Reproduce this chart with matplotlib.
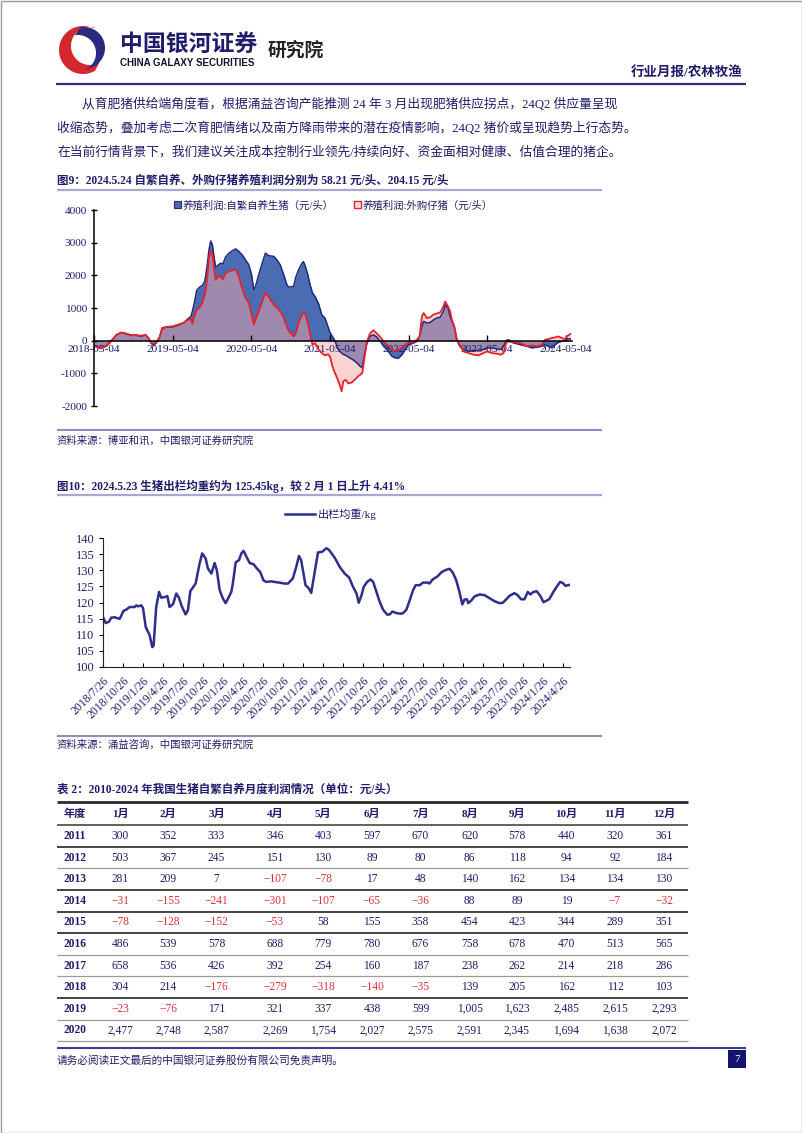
import matplotlib
matplotlib.use("Agg")
import numpy as np
import pandas as pd
import matplotlib.pyplot as plt
import matplotlib.dates as mdates
from matplotlib.patches import Rectangle, Polygon

plt.rcParams['font.family'] = ['Liberation Serif', 'Noto Sans CJK SC']

# ---------------- data ----------------
# 图9 养殖利润 (元/头)
profit_dates = [
    "2018-05-04", "2018-06-07", "2018-06-30", "2018-07-15", "2018-07-31", "2018-08-15",
    "2018-09-07", "2018-09-30", "2018-10-23", "2018-11-16", "2018-12-09", "2018-12-29",
    "2019-01-13", "2019-01-24", "2019-02-04", "2019-02-19", "2019-03-06", "2019-03-16",
    "2019-04-03", "2019-05-04", "2019-06-04", "2019-06-27", "2019-07-12", "2019-07-28",
    "2019-08-04", "2019-08-12", "2019-08-24", "2019-09-04", "2019-09-20", "2019-09-30",
    "2019-10-05", "2019-10-13", "2019-10-20", "2019-10-28", "2019-11-05", "2019-11-12",
    "2019-11-20", "2019-12-03", "2019-12-13", "2019-12-24", "2020-01-05", "2020-01-21",
    "2020-02-05", "2020-02-21", "2020-03-07", "2020-03-22", "2020-04-07", "2020-04-22",
    "2020-05-05", "2020-05-15", "2020-05-23", "2020-06-07", "2020-06-23", "2020-07-08",
    "2020-07-24", "2020-08-16", "2020-08-31", "2020-09-15", "2020-10-01", "2020-10-16",
    "2020-10-24", "2020-11-16", "2020-11-27", "2020-12-09", "2020-12-25", "2021-01-01",
    "2021-01-09", "2021-01-21", "2021-02-01", "2021-02-12", "2021-02-24", "2021-03-12",
    "2021-03-27", "2021-04-11", "2021-04-24", "2021-05-04", "2021-05-15", "2021-05-27",
    "2021-06-09", "2021-06-20", "2021-06-27", "2021-07-05", "2021-07-16", "2021-07-28",
    "2021-08-13", "2021-08-28", "2021-09-12", "2021-09-20", "2021-10-01", "2021-10-10",
    "2021-10-21", "2021-11-05", "2021-11-21", "2021-12-06", "2021-12-21", "2022-01-08",
    "2022-01-23", "2022-02-16", "2022-03-03", "2022-03-19", "2022-04-03", "2022-04-19",
    "2022-05-04", "2022-05-27", "2022-06-12", "2022-06-24", "2022-07-05", "2022-07-13",
    "2022-07-28", "2022-08-13", "2022-08-28", "2022-09-12", "2022-09-28", "2022-10-13",
    "2022-10-21", "2022-11-03", "2022-11-13", "2022-11-21", "2022-12-02", "2022-12-14",
    "2022-12-27", "2023-01-14", "2023-02-06", "2023-03-02", "2023-03-25", "2023-04-17",
    "2023-05-03", "2023-05-26", "2023-06-18", "2023-07-07", "2023-07-19", "2023-07-31",
    "2023-08-11", "2023-09-03", "2023-10-04", "2023-11-04", "2023-11-27", "2023-12-21",
    "2024-01-13", "2024-01-28", "2024-02-13", "2024-02-28", "2024-03-15", "2024-03-30",
    "2024-04-15", "2024-04-30", "2024-05-08", "2024-05-24",
]
self_bred = [
    -150, -220, -170, -70, 50, 170, 250, 210, 170, 170, 130, 180,
    80, -70, -150, -50, 130, 370, 410, 420, 480, 560, 660, 740,
    900, 1130, 1540, 1620, 1700, 1810, 2000, 2370, 2780, 3050, 2930, 2580,
    2250, 2320, 2370, 2350, 2560, 2680, 2750, 2810, 2730, 2630, 2470, 2320,
    2020, 1560, 1660, 2020, 2370, 2680, 2600, 2580, 2470, 2320, 2020, 1710,
    1640, 1660, 1960, 2170, 2370, 2420, 2290, 2020, 1700, 1460, 1350, 1130,
    790, 690, 440, 250, 130, 0, -250, -330, -380, -420, -450, -500,
    -560, -630, -720, -780, -830, -480, -120, 130, 180, 120, 0, -170,
    -270, -480, -530, -530, -430, -270, -120, -70, -20, 130, 440, 590,
    540, 560, 640, 690, 720, 900, 1100, 1000, 740, 590, 440, 30,
    -170, -270, -330, -300, -300, -270, -220, -220, -250, -270, -170, 0,
    30, -70, -120, -170, -220, -200, -170, -120, -170, -220, -120, -50,
    -20, 10, 50, 58.21,
]
purchased = [
    -170, -240, -150, -70, 50, 170, 250, 220, 160, 170, 150, 180,
    50, -70, -100, -40, 130, 390, 420, 440, 500, 560, 640, 660,
    520, 740, 950, 1000, 1170, 1400, 1560, 2000, 2550, 2750, 2650, 2220,
    1860, 1985, 1950, 1880, 2070, 2120, 2150, 2190, 1950, 1600, 1300, 1150,
    800, 490, 650, 900, 1200, 1470, 1330, 1100, 1000, 900, 700, 430,
    300, 130, 250, 550, 780, 870, 800, 550, 180, -120, -80, -270,
    -380, -450, -420, -480, -780, -990, -1190, -1390, -1550, -1240, -1200, -1310,
    -1280, -1190, -1090, -1050, -990, -580, -70, 210, 320, 230, 130, -20,
    -120, -270, -330, -270, -220, -120, -70, -50, 30, 130, 740, 845,
    690, 720, 800, 830, 865, 1050, 1200, 1050, 900, 640, 440, 50,
    -120, -330, -380, -430, -450, -380, -330, -380, -400, -430, -380, -70,
    -20, -50, -70, -170, -150, -170, -130, 30, 50, 80, 100, 130,
    80, 50, 130, 204.15,
]

# 图10 出栏均重 (kg)
weight_dates = [
    "2018-07-26", "2018-08-07", "2018-08-22", "2018-09-02", "2018-09-17", "2018-10-10",
    "2018-10-28", "2018-11-10", "2018-11-25", "2018-12-18", "2018-12-25", "2019-01-02",
    "2019-01-17", "2019-01-25", "2019-02-06", "2019-02-24", "2019-03-08", "2019-03-14",
    "2019-03-26", "2019-04-08", "2019-04-18", "2019-05-04", "2019-05-16", "2019-05-26",
    "2019-06-11", "2019-06-26", "2019-07-08", "2019-07-19", "2019-08-07", "2019-08-18",
    "2019-08-29", "2019-09-07", "2019-09-22", "2019-10-10", "2019-10-22", "2019-11-07",
    "2019-11-17", "2019-12-03", "2019-12-18", "2019-12-28", "2020-01-10", "2020-01-25",
    "2020-02-06", "2020-02-17", "2020-03-03", "2020-03-10", "2020-03-23", "2020-04-07",
    "2020-04-18", "2020-04-28", "2020-05-10", "2020-05-26", "2020-06-13", "2020-06-28",
    "2020-07-13", "2020-07-28", "2020-08-10", "2020-09-01", "2020-09-17", "2020-10-09",
    "2020-11-01", "2020-11-17", "2020-12-09", "2020-12-25", "2021-01-06", "2021-01-16",
    "2021-01-27", "2021-02-05", "2021-02-20", "2021-03-03", "2021-03-18", "2021-04-03",
    "2021-04-22", "2021-05-11", "2021-05-23", "2021-06-18", "2021-07-11", "2021-08-03",
    "2021-08-23", "2021-09-10", "2021-09-26", "2021-10-06", "2021-10-19", "2021-10-29",
    "2021-11-13", "2021-11-29", "2021-12-11", "2021-12-26", "2022-01-10", "2022-01-25",
    "2022-02-13", "2022-02-25", "2022-03-09", "2022-03-27", "2022-04-15", "2022-04-27",
    "2022-05-12", "2022-05-27", "2022-06-11", "2022-06-23", "2022-07-12", "2022-07-26",
    "2022-08-18", "2022-08-25", "2022-09-09", "2022-10-02", "2022-10-18", "2022-11-06",
    "2022-11-25", "2022-12-10", "2022-12-25", "2023-01-09", "2023-01-22", "2023-02-01",
    "2023-02-12", "2023-02-18", "2023-03-04", "2023-03-19", "2023-04-11", "2023-05-03",
    "2023-05-23", "2023-06-18", "2023-07-11", "2023-07-26", "2023-08-11", "2023-08-26",
    "2023-09-17", "2023-09-30", "2023-10-18", "2023-11-02", "2023-11-17", "2023-11-29",
    "2023-12-13", "2023-12-28", "2024-01-13", "2024-01-28", "2024-02-12", "2024-02-24",
    "2024-03-13", "2024-04-02", "2024-04-13", "2024-04-25", "2024-05-07", "2024-05-23",
]
weight = [
    115.5, 113.6, 114.0, 115.3, 115.4, 114.9, 117.4, 117.8, 118.6, 118.6, 119.1, 118.8,
    119.1, 118.2, 112.4, 109.8, 106.1, 106.5, 118.6, 123.3, 121.5, 121.7, 122.0, 118.6,
    119.5, 122.8, 121.5, 119.1, 116.3, 117.6, 123.6, 124.4, 125.9, 132.1, 135.3, 133.7,
    130.6, 129.0, 132.3, 130.0, 123.8, 121.2, 119.8, 121.2, 123.3, 125.9, 132.5, 133.2,
    135.3, 136.1, 134.4, 132.3, 131.9, 130.6, 129.5, 126.9, 126.4, 126.6, 126.4, 126.2,
    125.9, 125.9, 127.5, 131.2, 134.5, 133.2, 129.0, 125.4, 124.4, 123.0, 129.0, 135.6,
    135.8, 136.9, 136.4, 134.0, 131.1, 129.0, 127.8, 124.9, 122.8, 119.9, 122.3, 124.9,
    126.4, 127.2, 126.4, 123.3, 120.2, 117.8, 116.2, 116.3, 117.2, 116.7, 116.5, 116.7,
    117.8, 120.7, 123.8, 125.4, 125.4, 126.2, 126.2, 125.9, 127.2, 128.2, 129.4, 130.1,
    130.5, 129.3, 127.0, 123.3, 119.4, 120.9, 121.0, 119.8, 120.6, 121.9, 122.5, 122.3,
    121.5, 120.4, 119.8, 119.9, 121.0, 122.1, 122.9, 122.4, 121.0, 121.0, 123.3, 122.5,
    123.3, 123.5, 122.1, 120.1, 120.6, 121.1, 123.3, 125.4, 126.4, 126.1, 125.2, 125.45,
]

# 表2 自繁自养月度利润 (元/头)
months = ["1月", "2月", "3月", "4月", "5月", "6月", "7月", "8月", "9月", "10月", "11月", "12月"]
years = ["2011", "2012", "2013", "2014", "2015", "2016", "2017", "2018", "2019", "2020"]
profit_2011 = [300, 352, 333, 346, 403, 597, 670, 620, 578, 440, 320, 361]
profit_2012 = [503, 367, 245, 151, 130, 89, 80, 86, 118, 94, 92, 184]
profit_2013 = [281, 209, 7, -107, -78, 17, 48, 140, 162, 134, 134, 130]
profit_2014 = [-31, -155, -241, -301, -107, -65, -36, 88, 89, 19, -7, -32]
profit_2015 = [-78, -128, -152, -53, 58, 155, 358, 454, 423, 344, 289, 351]
profit_2016 = [486, 539, 578, 688, 779, 780, 676, 758, 678, 470, 513, 565]
profit_2017 = [658, 536, 426, 392, 254, 160, 187, 238, 262, 214, 218, 286]
profit_2018 = [304, 214, -176, -279, -318, -140, -35, 139, 205, 162, 112, 103]
profit_2019 = [-23, -76, 171, 321, 337, 438, 599, 1005, 1623, 2485, 2615, 2293]
profit_2020 = [2477, 2748, 2587, 2269, 1754, 2027, 2575, 2591, 2345, 1694, 1638, 2072]
profit_rows = [profit_2011, profit_2012, profit_2013, profit_2014, profit_2015,
               profit_2016, profit_2017, profit_2018, profit_2019, profit_2020]

# ---------------- styles ----------------
NAVY = "#1f1d6b"
RED_TXT = "#e0303a"
W, H = 802, 1133

fig = plt.figure(figsize=(W / 100, H / 100), dpi=100)
fig.patch.set_facecolor("white")

# page canvas in pixel coordinates
page = fig.add_axes([0, 0, 1, 1], zorder=0)
page.set_xlim(0, W)
page.set_ylim(H, 0)
page.axis("off")


def hline(y, x0, x1, color, lw):
    page.plot([x0, x1], [y, y], color=color, lw=lw, solid_capstyle="butt")


def crescent(c1, r1, c2, r2, t1, t2, color):
    t = np.radians(np.linspace(t1, t2, 80))
    outer = np.column_stack([c1[0] + r1 * np.cos(t), c1[1] - r1 * np.sin(t)])
    inner = np.column_stack([c2[0] + r2 * np.cos(t[::-1]), c2[1] - r2 * np.sin(t[::-1])])
    page.add_patch(Polygon(np.vstack([outer, inner]), closed=True, fc=color, ec="none"))


# page border
page.add_patch(Rectangle((0.5, 0.5), W - 1, H - 1, fill=False, ec="#9a9a9a", lw=1))

# header logo + names
crescent((83, 50), 24, (90, 46), 19, 70, 300, "#d3282f")
crescent((84, 48), 21, (78, 53), 18, -75, 100, "#2a2a80")
page.text(120, 44, "中国银河证券", fontsize=16.5, fontweight="bold", color=NAVY,
          va="center", family=["Noto Sans CJK SC"])
page.text(120, 63, "CHINA GALAXY SECURITIES", fontsize=7, fontweight="bold",
          color="#111133", va="center", family=["Liberation Sans"])
page.text(268, 50, "研究院", fontsize=13.5, fontweight="bold", color="#222222",
          va="center", family=["Noto Sans CJK SC"])
page.text(743, 72, "行业月报/农林牧渔", fontsize=9.7, fontweight="bold", color=NAVY,
          va="center", ha="right")
hline(84, 56, 746, "#2e2e8c", 1.6)

# paragraph
para = [
    (82, 104, "从育肥猪供给端角度看，根据涌益咨询产能推测 24 年 3 月出现肥猪供应拐点，24Q2 供应量呈现"),
    (57, 128, "收缩态势，叠加考虑二次育肥情绪以及南方降雨带来的潜在疫情影响，24Q2 猪价或呈现趋势上行态势。"),
    (57, 152, "在当前行情背景下，我们建议关注成本控制行业领先/持续向好、资金面相对健康、估值合理的猪企。"),
]
for x, y, s in para:
    page.text(x, y, s, fontsize=9.2, color=NAVY, va="center")

# figure 9 caption
page.text(57, 181, "图9：2024.5.24 自繁自养、外购仔猪养殖利润分别为 58.21 元/头、204.15 元/头",
          fontsize=8.3, fontweight="bold", color=NAVY, va="center")
hline(190, 57, 602, "#a9a9d0", 1.6)

# figure 9 legend
page.add_patch(Rectangle((174, 201), 7, 7, fc="#4a6cb3", ec="#1f2a7a", lw=0.8))
page.text(183, 205, "养殖利润:自繁自养生猪（元/头）", fontsize=7.5, color=NAVY, va="center")
page.add_patch(Rectangle((354, 201), 7, 7, fc="#fde2e2", ec="#e8222a", lw=1))
page.text(363, 205, "养殖利润:外购仔猪（元/头）", fontsize=7.5, color=NAVY, va="center")

hline(430, 57, 602, "#8c8cbf", 1.5)
page.text(57, 441, "资料来源：博亚和讯，中国银河证券研究院", fontsize=7.5, color=NAVY,
          va="center", style="italic")

# figure 10 caption
page.text(57, 486, "图10：2024.5.23 生猪出栏均重约为 125.45kg，较 2 月 1 日上升 4.41%",
          fontsize=8.3, fontweight="bold", color=NAVY, va="center")
hline(495, 57, 602, "#a9a9d0", 1.6)
page.plot([285, 315], [514, 514], color="#2e2e8c", lw=1.8)
page.text(318, 514, "出栏均重/kg", fontsize=8, color=NAVY, va="center")

hline(736, 57, 602, "#8c8cbf", 1.5)
page.text(57, 745, "资料来源：涌益咨询，中国银河证券研究院", fontsize=7.5, color=NAVY,
          va="center", style="italic")

# ---------------- figure 9 chart ----------------
pd9 = pd.to_datetime(profit_dates)
ax9 = fig.add_axes([94 / W, 1 - 406 / H, 478 / W, 196 / H], zorder=2)
ax9.patch.set_alpha(0)
ax9.fill_between(pd9, 0, self_bred, color="#4a6cb3", lw=0)
ax9.fill_between(pd9, 0, purchased, color="#f4a6a6", alpha=0.5, lw=0)
ax9.plot(pd9, self_bred, color="#1f2a7a", lw=1.1)
ax9.plot(pd9, purchased, color="#e8222a", lw=1.3)
ax9.set_ylim(-2000, 4000)
ax9.set_xlim(pd.Timestamp("2018-05-04"), pd.Timestamp("2024-06-01"))
ax9.set_yticks(range(-2000, 4001, 1000))
ax9.set_yticklabels([str(v) for v in range(-2000, 4001, 1000)])
ax9.set_xticks(pd.to_datetime(["2018-05-04", "2019-05-04", "2020-05-04", "2021-05-04",
                               "2022-05-04", "2023-05-04", "2024-05-04"]))
ax9.xaxis.set_major_formatter(mdates.DateFormatter("%Y-%m-%d"))
for s in ["top", "right"]:
    ax9.spines[s].set_visible(False)
ax9.spines["bottom"].set_position(("data", 0))
ax9.spines["bottom"].set_color("black")
ax9.spines["left"].set_color("black")
ax9.spines["bottom"].set_linewidth(1.1)
ax9.spines["left"].set_linewidth(1.1)
ax9.tick_params(axis="y", direction="inout", length=4, width=1, pad=3,
                labelsize=8.2, labelcolor=NAVY)
ax9.tick_params(axis="x", direction="in", length=4, width=1, pad=3,
                labelsize=8.2, labelcolor=NAVY)

# ---------------- figure 10 chart ----------------
pd10 = pd.to_datetime(weight_dates)
ax10 = fig.add_axes([103 / W, 1 - 666.7 / H, 467 / W, 128.4 / H], zorder=2)
ax10.patch.set_alpha(0)
ax10.plot(pd10, weight, color="#2e2e8c", lw=1.8)
ax10.set_ylim(100, 140)
ax10.set_yticks(range(100, 141, 5))
ax10.set_xlim(pd.Timestamp("2018-07-26"), pd.Timestamp("2024-05-28"))
qticks = pd.date_range("2018-07-26", periods=24, freq=pd.DateOffset(months=3))
ax10.set_xticks(qticks)
ax10.set_xticklabels([f"{d.year}/{d.month}/{d.day}" for d in qticks], rotation=45,
                     ha="right", rotation_mode="anchor")
for s in ["top", "right"]:
    ax10.spines[s].set_visible(False)
ax10.spines["left"].set_color("#222222")
ax10.spines["bottom"].set_color("#222222")
ax10.tick_params(axis="y", direction="out", length=3, pad=3, labelsize=9, labelcolor=NAVY)
ax10.tick_params(axis="x", direction="in", length=3, pad=6, labelsize=8.5, labelcolor=NAVY)

# ---------------- table 2 ----------------
page.text(57, 790, "表 2：2010-2024 年我国生猪自繁自养月度利润情况（单位：元/头）",
          fontsize=8.3, fontweight="bold", color=NAVY, va="center")
col_x = [120, 168, 216.5, 275, 323, 372, 420.5, 469.6, 517, 566.5, 615, 664]
year_x = 74.5
tab_left, tab_right = 57, 688
header_y = 814
row_y0, row_h = 836, 21.6
hline(802, tab_left, tab_right, "#2b2b2b", 2)
hline(824.5, tab_left, tab_right, "#555555", 1.3)
dark_after = {"2011", "2013", "2014", "2015", "2018"}
page.text(year_x, header_y, "年度", fontsize=8, fontweight="bold", color=NAVY,
          ha="center", va="center")
for x, m in zip(col_x, months):
    page.text(x, header_y, m, fontsize=8, fontweight="bold", color=NAVY,
              ha="center", va="center")
for i, (yr, row) in enumerate(zip(years, profit_rows)):
    y = row_y0 + i * row_h
    page.text(year_x, y, yr, fontsize=8.3, fontweight="bold", color=NAVY,
              ha="center", va="center")
    for x, v in zip(col_x, row):
        txt = f"{v:,}" if v >= 0 else f"−{abs(v):,}"
        page.text(x, y, txt, fontsize=8.3, color=NAVY if v >= 0 else RED_TXT,
                  ha="center", va="center")
    if yr in dark_after:
        hline(y + row_h / 2, tab_left, tab_right, "#444444", 1.4)
    else:
        hline(y + row_h / 2, tab_left, tab_right, "#9a9a9a", 0.9)

# ---------------- footer ----------------
hline(1048, 57, 746, "#3c3c96", 1.5)
page.text(57, 1060, "请务必阅读正文最后的中国银河证券股份有限公司免责声明。", fontsize=7.7,
          color=NAVY, va="center")
page.add_patch(Rectangle((728, 1050), 18, 18, fc="#14146e", ec="none"))
page.text(737, 1059, "7", fontsize=8, color="white", ha="center", va="center")

fig.savefig("out.png", dpi=100)
